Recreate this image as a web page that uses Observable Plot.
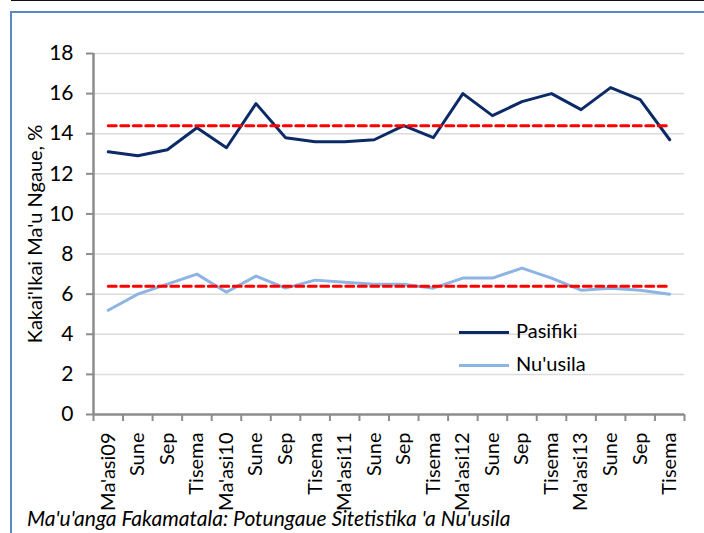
<!DOCTYPE html>
<html><head><meta charset="utf-8">
<script src="https://cdn.jsdelivr.net/npm/d3@7"></script>
<script src="https://cdn.jsdelivr.net/npm/@observablehq/plot@0.6"></script>
<style>
body{margin:0;background:#fff;}
#wrap{position:relative;width:704px;height:533px;overflow:hidden;font-family:Lato,"Open Sans",sans-serif;background:#fff;}
#topline{position:absolute;left:11px;top:0;width:700px;height:0;border-top:1.5px solid #111;}
#box{position:absolute;left:10px;top:11px;width:720px;height:560px;border:2px solid #5b87c5;box-sizing:border-box;}
#chart{position:absolute;left:0;top:0;}
#caption{position:absolute;left:27px;top:505px;font-style:italic;font-size:21px;line-height:25px;color:#000;white-space:nowrap;}
.leg{position:absolute;left:459px;font-size:20px;line-height:24px;color:#000;white-space:nowrap;}
.leg span.sw{display:inline-block;width:50px;height:0;border-top:3px solid;vertical-align:middle;margin-right:7px;}
</style></head>
<body>
<div id="wrap">
  <div id="topline"></div>
  <div id="box"></div>
  <div id="chart"></div>
  <div id="leg1" class="leg"></div>
  <div id="leg2" class="leg"></div>
  <div id="caption"></div>
</div>
<script>
const categories = ["Ma'asi09","Sune","Sep","Tisema","Ma'asi10","Sune","Sep","Tisema","Ma'asi11","Sune","Sep","Tisema","Ma'asi12","Sune","Sep","Tisema","Ma'asi13","Sune","Sep","Tisema"];
const pasifiki = [13.1,12.9,13.2,14.3,13.3,15.5,13.8,13.6,13.6,13.7,14.4,13.8,16.0,14.9,15.6,16.0,15.2,16.3,15.7,13.7];
const nuusila = [5.2,6.0,6.5,7.0,6.1,6.9,6.3,6.7,6.6,6.5,6.5,6.3,6.8,6.8,7.3,6.8,6.2,6.3,6.2,6.0];
const pasifikiAvg = 14.4;
const nuusilaAvg = 6.4;
const yTicks = [0,2,4,6,8,10,12,14,16,18];
const seriesNames = ["Pasifiki","Nu'usila"];
const seriesColors = ["#0c2a66","#8db4e3"];
const yTitle = "Kakai'Ikai Ma'u Ngaue, %";
const captionText = "Ma'u'anga Fakamatala: Potungaue Sitetistika 'a Nu'usila";

const idx = categories.map((c,i)=>i);
const pos = i => i + 0.5;
const boundaries = d3.range(categories.length + 1);
const axisColor = "#8c8c8c";

const plot = Plot.plot({
  width: 704, height: 533,
  marginLeft: 93, marginRight: 20, marginTop: 53, marginBottom: 119,
  style: {fontFamily: "Lato, 'Open Sans', sans-serif", fontSize: "20px", background: "transparent", color: "#000"},
  x: {type: "linear", domain: [0, categories.length]},
  y: {domain: [0, 18]},
  marks: [
    Plot.gridY(yTicks.filter(d=>d>0), {stroke: "#dcdcdc", strokeOpacity: 1, strokeWidth: 1.5}),
    Plot.axisY(yTicks, {tickSize: 7, tickPadding: 13, fontSize: 21, stroke: axisColor, strokeWidth: 2, fill: "#000",
      label: null}),
    Plot.text([yTitle], {frameAnchor: "left", rotate: -90, dx: -58, fontSize: 20, fill: "#000", textAnchor: "middle"}),
    Plot.axisX(boundaries, {tickSize: 7, tickFormat: () => "", stroke: axisColor, strokeWidth: 2, label: null}),
    Plot.axisX(idx.map(pos), {tickSize: 0, tickPadding: 18, tickRotate: -90, fontSize: 20, fill: "#000",
      tickFormat: (d) => categories[Math.round(d - 0.5)], label: null}),
    Plot.ruleX([0], {stroke: axisColor, strokeWidth: 2.5}),
    Plot.ruleY([0], {stroke: axisColor, strokeWidth: 2.5}),
    Plot.lineY(idx, {x: pos, y: i => nuusila[i], stroke: seriesColors[1], strokeWidth: 3}),
    Plot.lineY(idx, {x: pos, y: i => pasifiki[i], stroke: seriesColors[0], strokeWidth: 3}),
    Plot.lineY(idx, {x: pos, y: () => pasifikiAvg, stroke: "#ff0000", strokeWidth: 3, strokeDasharray: "8,4.5"}),
    Plot.lineY(idx, {x: pos, y: () => nuusilaAvg, stroke: "#ff0000", strokeWidth: 3, strokeDasharray: "8,4.5"})
  ]
});
document.getElementById("chart").appendChild(plot);

const l1 = document.getElementById("leg1");
l1.style.top = "318px";
l1.innerHTML = `<span class="sw" style="border-color:${seriesColors[0]}"></span>${seriesNames[0]}`;
const l2 = document.getElementById("leg2");
l2.style.top = "351px";
l2.innerHTML = `<span class="sw" style="border-color:${seriesColors[1]}"></span>${seriesNames[1]}`;
document.getElementById("caption").textContent = captionText;
</script>
</body></html>
